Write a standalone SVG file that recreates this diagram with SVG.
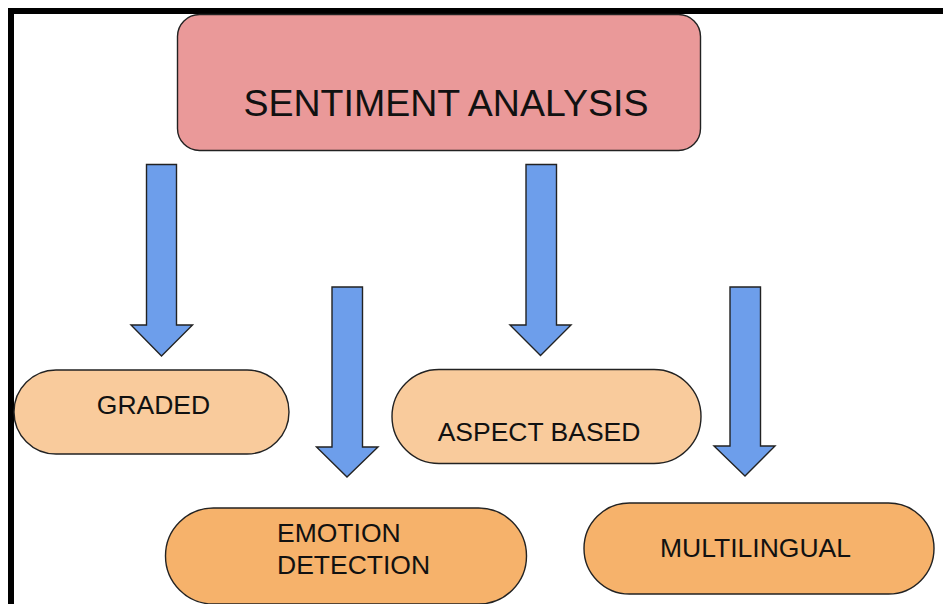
<svg xmlns="http://www.w3.org/2000/svg" width="943" height="604" viewBox="0 0 943 604">
<defs>
<style>
.frame{fill:none;stroke:#000;stroke-width:6}
.node{stroke:#222;stroke-width:1.4}
.main{fill:#ea9999}
.light{fill:#f9cb9c}
.dark{fill:#f6b26b}
.arrow{fill:#6d9eeb;stroke:#222;stroke-width:1.4;stroke-linejoin:miter}
text{font-family:"Liberation Sans",Arial,sans-serif;fill:#111}
.lbl{font-size:26.5px}
</style>
</defs>
<rect x="0" y="0" width="943" height="604" fill="#fff"/>
<path class="frame" d="M11 604 V11 H943"/>
<g id="sentiment-analysis">
<rect class="node main" x="177.5" y="14.5" width="523" height="136" rx="22"/>
<text x="446" y="115.5" font-size="37.5" text-anchor="middle">SENTIMENT ANALYSIS</text>
</g>
<g id="graded">
<rect class="node light" x="14" y="370" width="275" height="84" rx="42"/>
<text class="lbl" x="153.5" y="414" text-anchor="middle">GRADED</text>
</g>
<g id="aspect-based">
<rect class="node light" x="392" y="369.5" width="309" height="94" rx="47"/>
<text class="lbl" x="539" y="441" text-anchor="middle">ASPECT BASED</text>
</g>
<g id="emotion-detection">
<rect class="node dark" x="165.5" y="508" width="361" height="96" rx="48"/>
<text class="lbl" x="277" y="542">EMOTION</text>
<text class="lbl" x="277" y="574">DETECTION</text>
</g>
<g id="multilingual">
<rect class="node dark" x="584" y="503" width="350" height="91" rx="45.5"/>
<text class="lbl" x="755.5" y="557" text-anchor="middle">MULTILINGUAL</text>
</g>
<g id="connectors">
<path class="arrow" d="M146.5 164.5 H176.5 V325 H192.5 L161.5 356 L131 325 H146.5 Z"/>
<path class="arrow" d="M332 287 H362.5 V447 H378 L347 477 L316.5 447 H332 Z"/>
<path class="arrow" d="M526 164.5 H556.5 V325 H571 L540.5 355.5 L510 325 H526 Z"/>
<path class="arrow" d="M730 287 H760.5 V446 H775 L745 476 L714 446 H730 Z"/>
</g>
</svg>
